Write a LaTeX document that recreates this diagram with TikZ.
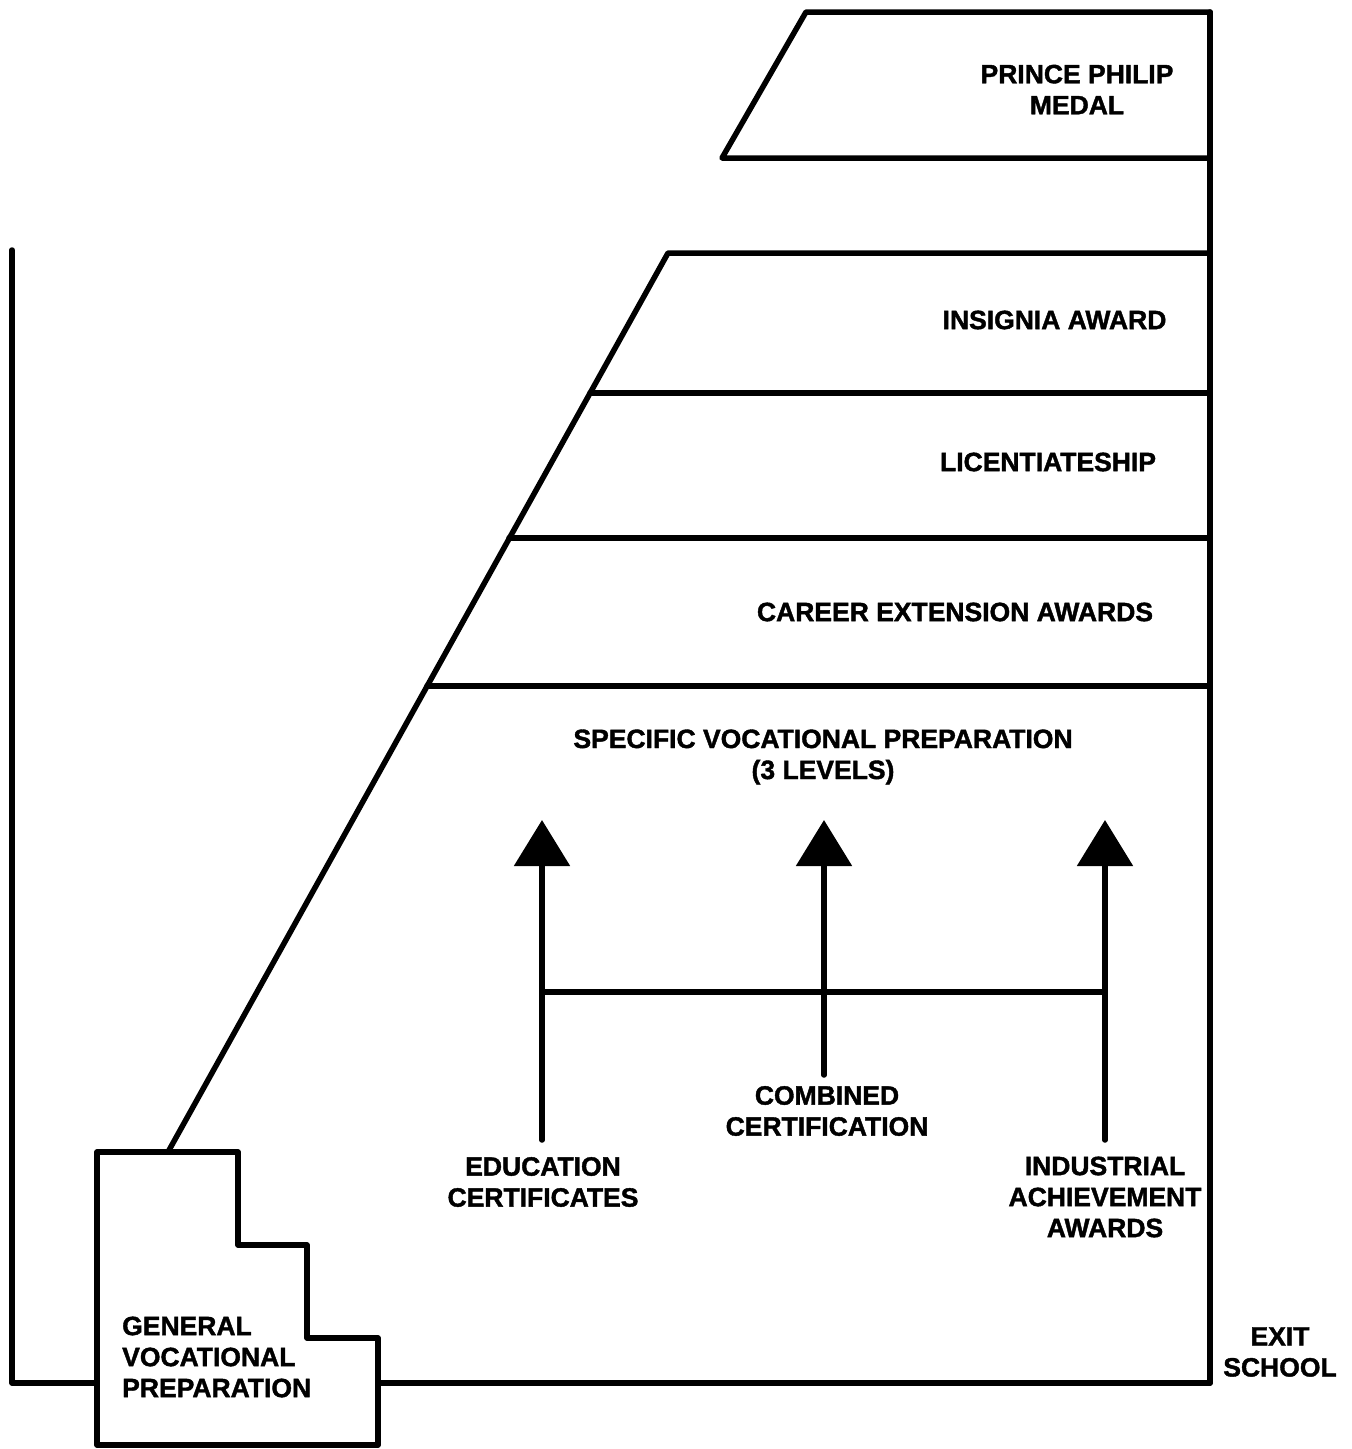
\documentclass[tikz,border=0pt]{standalone}
\usepackage{fontspec}
\setmainfont{Liberation Sans}[BoldFeatures={FakeBold=1.5}]
\usetikzlibrary{arrows.meta}
\begin{document}
\begin{tikzpicture}[x=1pt,y=-1pt,
  heavy/.style={line width=5.5pt, line join=round, line cap=round},
  lbl/.style={font=\fontsize{26.5}{31}\selectfont\bfseries, align=center, inner sep=0pt},
  uparrow/.style={line width=5.5pt, line cap=round, -{Triangle[width=55pt,length=46pt]}}
]
\useasboundingbox[fill=white] (0,0) rectangle (1352,1449);

% key points
\coordinate (ppTL) at (806,12);
\coordinate (ppTR) at (1210,12);
\coordinate (ppBL) at (722,158);
\coordinate (ppBR) at (1210,158);
\coordinate (mainTL) at (668,253);
\coordinate (mainTR) at (1210,253);
\coordinate (slantBot) at (168,1152);
\coordinate (exitC) at (1210,1383);
\coordinate (leftTop) at (12,250);
\coordinate (leftBot) at (12,1383);
\coordinate (gvpL) at (97,1383);
\coordinate (gvpR) at (378,1383);

% Prince Philip box and right border
\draw[heavy] (ppTR) -- (ppTL) -- (ppBL) -- (ppBR);
\draw[heavy] (ppTR) -- (exitC);

% main trapezoid
\draw[heavy] (mainTR) -- (mainTL) -- (slantBot);
\draw[heavy] (590,393) -- (1210,393);
\draw[heavy] (509,538) -- (1210,538);
\draw[heavy] (427,686) -- (1210,686);

% outer left and bottom line
\draw[heavy] (leftTop) -- (leftBot) -- (gvpL);
\draw[heavy] (gvpR) -- (exitC);

% general vocational preparation stepped box
\draw[heavy] (97,1152) -- (238,1152) -- (238,1245) -- (307,1245) -- (307,1338)
  -- (378,1338) -- (378,1445) -- (97,1445) -- cycle;

% labels
\node[lbl] (pp) at (1077,89.5) {PRINCE PHILIP\\MEDAL};
\node[lbl] (ins) at (1054.5,320) {INSIGNIA AWARD};
\node[lbl] (lic) at (1048,462) {LICENTIATESHIP};
\node[lbl] (cea) at (955,612) {CAREER EXTENSION AWARDS};
\node[lbl] (svp) at (823,757) {SPECIFIC VOCATIONAL PREPARATION\\(3 LEVELS)};
\node[lbl] (comb) at (827,1111) {COMBINED\\CERTIFICATION};
\node[lbl] (edu) at (543,1182) {EDUCATION\\CERTIFICATES};
\node[lbl] (ind) at (1105,1197) {INDUSTRIAL\\ACHIEVEMENT\\AWARDS};
\node[lbl, align=left, anchor=west] (gvp) at (122,1357) {GENERAL\\VOCATIONAL\\PREPARATION};
\node[lbl] (exit) at (1280,1352) {EXIT\\SCHOOL};

% arrows
\coordinate (tipA) at (542,820);
\coordinate (tipB) at (824,820);
\coordinate (tipC) at (1105,820);
\coordinate (startA) at (542,1140);
\coordinate (startB) at (824,1075);
\coordinate (startC) at (1105,1140);
\coordinate (jA) at (542,992);
\coordinate (jC) at (1105,992);
\draw[uparrow] (startA) -- (tipA);
\draw[uparrow] (startB) -- (tipB);
\draw[uparrow] (startC) -- (tipC);
\draw[heavy] (jA) -- (jC);
\end{tikzpicture}
\end{document}
